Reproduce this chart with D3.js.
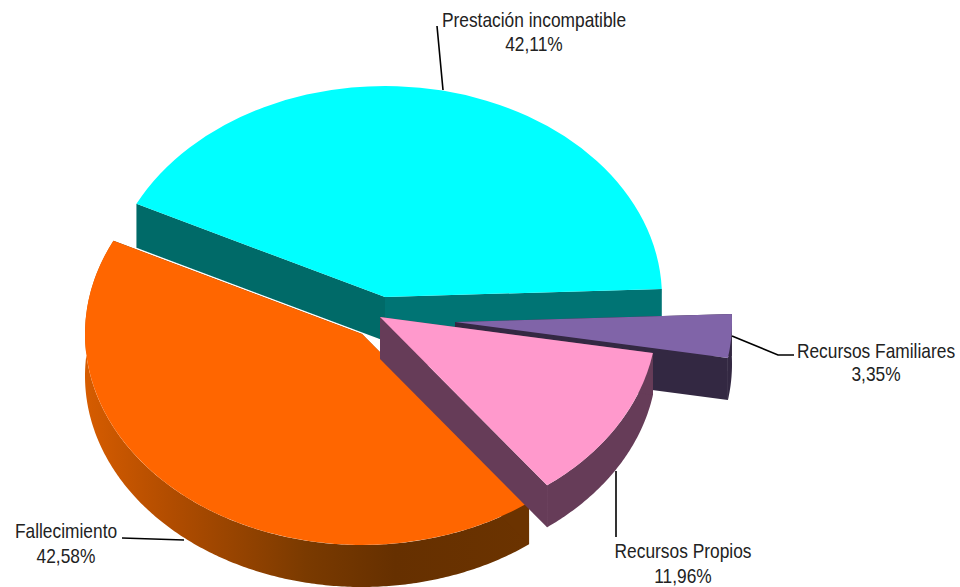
<!DOCTYPE html>
<html lang="en">
	<head>
		<meta charset="utf-8">
		<title>Pie 3D</title>
		<script type="text/javascript" src="https://cdn.jsdelivr.net/npm/d3@7"></script>
		<style>
			html, body { margin: 0; padding: 0; background: #fff; }
			svg { display: block; }
			text { font-family: "Liberation Sans", sans-serif; font-size: 20px; fill: #222; text-anchor: middle; }
		</style>
	</head>
	<body>
		<script type="text/javascript">
			// data, in drawing order round the pie
			var categories = ["Prestación incompatible", "Recursos Familiares", "Recursos Propios", "Fallecimiento"];
			var shares = [42.11, 3.35, 11.96, 42.58];
			var shareLabels = ["42,11%", "3,35%", "11,96%", "42,58%"];

			// layout
			var w = 960, h = 587;
			var rx = 277, ry = 211;
			var depths = [44, 42, 42, 42];
			var startAngle = -63.8 * Math.PI / 180;
			var centers = [[385, 297], [455, 322], [380, 317], [362, 334]];
			var topColors = ["#00ffff", "#8064a8", "#ff99cc", "#ff6600"];
			var startFaceColors = ["#006a68", "#332842", "#663c58", "#6b3300"];
			var endFaceColors = ["#007474", "#332842", "#663c58", "#6b3300"];
			var wallColors = ["#006a68", "#332842", "#663c58", "url(#orangeWall)"];
			var labelPos = [[534, 27, 51], [876, 358, 381], [683, 558, 583], [66, 538, 563]];
			var narrow = 0.868; // the labels are in a condensed face, none is installed
			var leaders = [
				[[437, 26], [443, 90]],
				[[732, 336], [778, 355], [794, 355]],
				[[616, 471], [616, 537]],
				[[122, 538], [184, 540]]
			];

			var svg = d3.select("body")
						.append("svg")
						.attr("width", w)
						.attr("height", h);

			var grad = svg.append("defs").append("linearGradient")
				.attr("id", "orangeWall")
				.attr("gradientUnits", "userSpaceOnUse")
				.attr("x1", 85).attr("x2", 528).attr("y1", 0).attr("y2", 0);
			grad.selectAll("stop")
				.data([[0, "#d65c00"], [0.2, "#b04c00"], [0.5, "#7a3a00"], [0.7, "#663000"], [1, "#6b3300"]])
				.enter()
				.append("stop")
				.attr("offset", function(d) { return d[0]; })
				.attr("stop-color", function(d) { return d[1]; });

			var pie = d3.pie()
				.sort(null)
				.startAngle(startAngle)
				.endAngle(startAngle + 2 * Math.PI);
			var arcs = pie(shares);

			var arc = d3.arc().innerRadius(0).outerRadius(rx);
			var line = d3.line();

			// point on the rim of slice i, angle clockwise from the top
			function rim(i, a, dy) {
				return [centers[i][0] + rx * Math.sin(a), centers[i][1] - ry * Math.cos(a) + dy];
			}

			function facePath(i, a) {
				return line([
					[centers[i][0], centers[i][1]],
					rim(i, a, 0),
					rim(i, a, depths[i]),
					[centers[i][0], centers[i][1] + depths[i]]
				]) + "Z";
			}

			function wallPath(i, d) {
				var angles = d3.range(d.startAngle, d.endAngle, 0.01).concat([d.endAngle]);
				var upper = angles.map(function(a) { return rim(i, a, 0); });
				var lower = angles.slice().reverse().map(function(a) { return rim(i, a, depths[i]); });
				return line(upper.concat(lower)) + "Z";
			}

			// back to front: cyan, orange, purple, pink
			var order = [0, 3, 1, 2];
			var slices = svg.selectAll("g.slice")
				.data(order)
				.enter()
				.append("g")
				.attr("class", "slice");

			slices.each(function(i) {
				var g = d3.select(this), d = arcs[i];
				// the cyan slice has no front rim showing
				if (i !== 0) {
					g.append("path").attr("d", wallPath(i, d)).attr("fill", wallColors[i]);
				}
				g.append("path").attr("d", facePath(i, d.startAngle)).attr("fill", startFaceColors[i]);
				g.append("path").attr("d", facePath(i, d.endAngle)).attr("fill", endFaceColors[i]);
				g.append("path")
					.attr("d", arc(d))
					.attr("transform", "translate(" + centers[i][0] + "," + centers[i][1] + ") scale(1," + (ry / rx) + ")")
					.attr("fill", topColors[i]);
			});

			svg.selectAll("path.leader")
				.data(leaders)
				.enter()
				.append("path")
				.attr("class", "leader")
				.attr("d", function(d) { return line(d); })
				.attr("fill", "none")
				.attr("stroke", "#000")
				.attr("stroke-width", 1.6);

			var labels = svg.selectAll("g.label")
				.data(categories)
				.enter()
				.append("g")
				.attr("class", "label")
				.attr("transform", function(d, i) {
					return "translate(" + labelPos[i][0] + ",0) scale(" + narrow + ",1)";
				});
			labels.append("text")
				.attr("y", function(d, i) { return labelPos[i][1]; })
				.text(function(d) { return d; });
			labels.append("text")
				.attr("y", function(d, i) { return labelPos[i][2]; })
				.text(function(d, i) { return shareLabels[i]; });
		</script>
	</body>
</html>
